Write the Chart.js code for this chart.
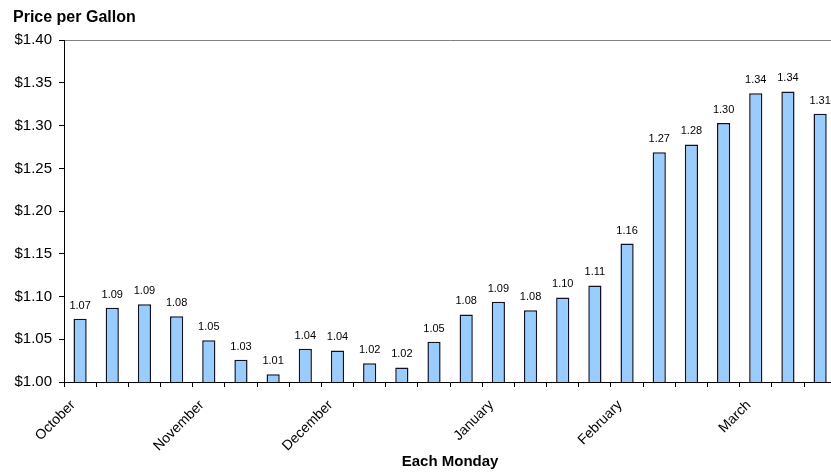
<!DOCTYPE html>
<html>
<head>
<meta charset="utf-8">
<script src="https://cdn.jsdelivr.net/npm/chart.js@4"></script>
<style>
  html, body { margin: 0; padding: 0; background: #fff; overflow: hidden; }
  #wrap { width: 842px; height: 475px; }
</style>
</head>
<body>
<div id="wrap"><canvas id="chart"></canvas></div>
<script>
// Weekly (each Monday) price per gallon
const weekLabels = ['October', '', '', '', 'November', '', '', '', 'December', '', '', '', '',
  'January', '', '', '', 'February', '', '', '', 'March', '', ''];
const prices = [1.074, 1.087, 1.091, 1.077, 1.049, 1.026, 1.009, 1.039, 1.037, 1.022, 1.017, 1.047,
  1.079, 1.094, 1.084, 1.099, 1.113, 1.162, 1.269, 1.278, 1.303, 1.338, 1.340, 1.314];
const yMin = 1.00;
const yMax = 1.40;
const yStep = 0.05;

const FONT = "'Liberation Sans', Arial, sans-serif";

// value labels above each bar
const barValueLabels = {
  id: 'barValueLabels',
  afterDatasetsDraw(chart) {
    const ctx = chart.ctx;
    const meta = chart.getDatasetMeta(0);
    ctx.save();
    ctx.font = '11px ' + FONT;
    ctx.fillStyle = '#000';
    ctx.textAlign = 'center';
    ctx.textBaseline = 'alphabetic';
    meta.data.forEach((bar, i) => {
      ctx.fillText(prices[i].toFixed(2), bar.x, bar.y - 10);
    });
    ctx.restore();
  }
};

new Chart(document.getElementById('chart'), {
  type: 'bar',
  data: {
    labels: weekLabels,
    datasets: [{
      data: prices,
      backgroundColor: '#99CCFF',
      borderColor: '#111122',
      borderWidth: 1.5,
      barPercentage: 0.82,
      categoryPercentage: 0.5
    }]
  },
  options: {
    responsive: true,
    maintainAspectRatio: false,
    animation: false,
    layout: { padding: { left: 13, right: 0, top: 8, bottom: 0 } },
    plugins: {
      legend: { display: false },
      tooltip: { enabled: false },
      title: {
        display: true,
        text: 'Price per Gallon',
        align: 'start',
        color: '#000',
        font: { family: FONT, size: 16, weight: 'bold' },
        padding: { top: 0, bottom: 13 }
      }
    },
    scales: {
      x: {
        afterFit(scale) { scale.height = 93; },
        border: { display: true, color: '#000', width: 1 },
        grid: {
          offset: true,
          drawOnChartArea: false,
          tickLength: 5,
          tickColor: '#000'
        },
        ticks: {
          autoSkip: false,
          maxRotation: 45,
          minRotation: 45,
          padding: 10,
          labelOffset: -7,
          color: '#000',
          font: { family: FONT, size: 14 }
        },
        title: {
          display: true,
          text: 'Each Monday',
          color: '#000',
          font: { family: FONT, size: 15, weight: 'bold' },
          padding: { top: 4, bottom: 4 }
        }
      },
      y: {
        min: yMin,
        max: yMax,
        afterFit(scale) { scale.width = 51; },
        border: { display: true, color: '#000', width: 1 },
        grid: {
          color: (c) => (c.tick && Math.abs(c.tick.value - yMax) < 1e-9 ? '#808080' : 'rgba(0,0,0,0)'),
          tickLength: 5,
          tickColor: '#000'
        },
        ticks: {
          stepSize: yStep,
          padding: 7,
          color: '#000',
          font: { family: FONT, size: 15 },
          callback: (v) => '$' + Number(v).toFixed(2)
        }
      }
    }
  },
  plugins: [barValueLabels]
});
</script>
</body>
</html>
